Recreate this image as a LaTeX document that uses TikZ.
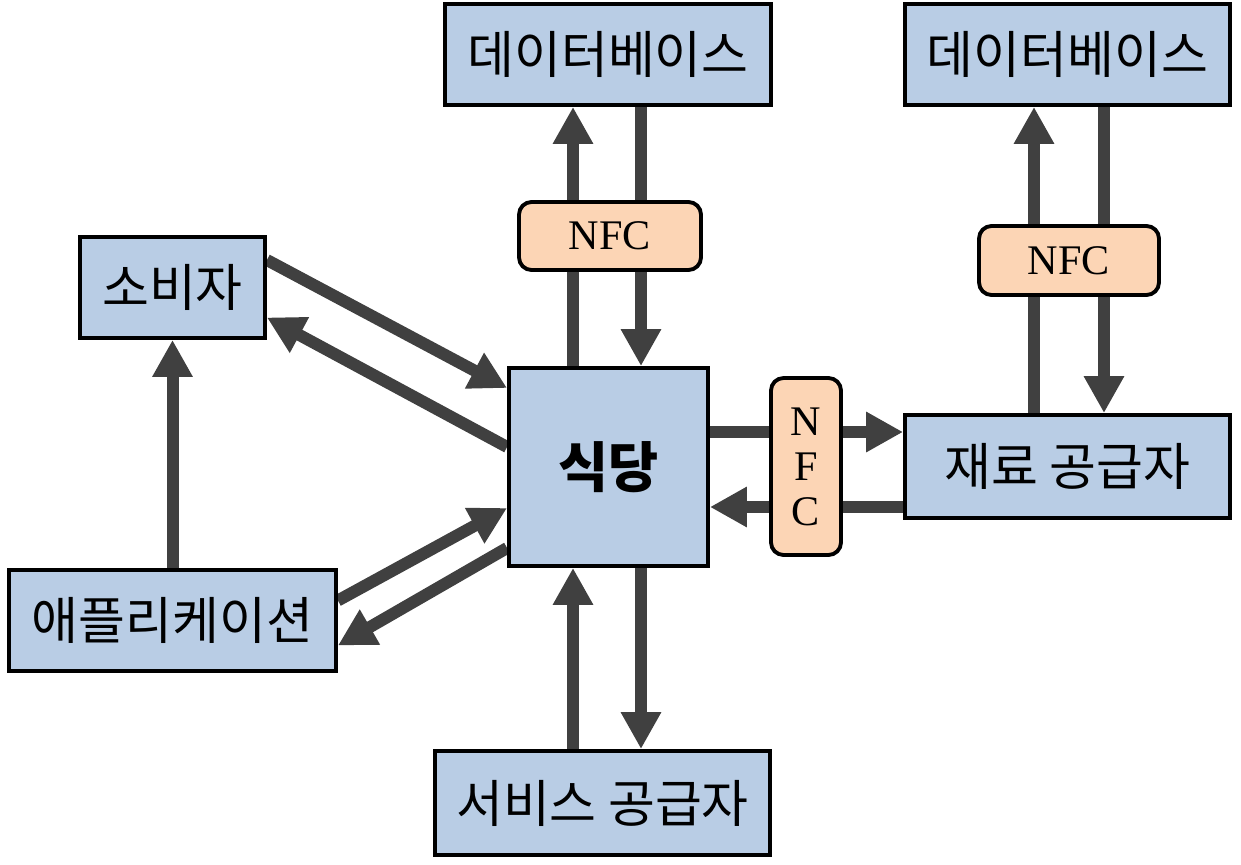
\documentclass[tikz,border=0pt]{standalone}
\usepackage{fontspec}
\setmainfont{Liberation Serif}
\newfontfamily\kr{Noto Sans CJK KR}
\usetikzlibrary{arrows.meta,positioning,backgrounds}
\definecolor{boxblue}{HTML}{B9CDE5}
\definecolor{nfcorange}{HTML}{FCD5B5}
\definecolor{arrowgray}{HTML}{404040}

\begin{document}
\begin{tikzpicture}[
    x=0.02cm, y=-0.02cm,
    >={Triangle[length=0.74cm,width=0.76cm]},
    block/.style={
		rectangle,
		draw=black,
		line width=2.2pt,
		fill=boxblue,
		text centered,
		inner sep=0pt,
		font=\kr\fontsize{29}{33}\selectfont
	},
    nfc/.style={
		rectangle,
		rounded corners=0.25cm,
		draw=black,
		line width=2.2pt,
		fill=nfcorange,
		align=center,
		inner sep=0pt,
		font=\fontsize{24}{25.6}\selectfont
	},
    flow/.style={
		->,
		draw=arrowgray,
		line width=0.24cm
	}
  ]
  \useasboundingbox (0,0) rectangle (1241,865);
    % We start by placing the blocks

  \node [block, minimum width=3.98cm, minimum height=3.96cm,
         font=\kr\bfseries\fontsize{31}{35}\selectfont] (sikdang) at (608.5,467) {식당};
  \node [block, minimum width=6.52cm, minimum height=2.02cm] (db1) at (608,54.5) {데이터베이스};
  \node [block, minimum width=6.5cm, minimum height=2.02cm] (db2) at (1067.5,54.5) {데이터베이스};
  \node [block, minimum width=3.7cm, minimum height=2.02cm] (sobija) at (172.5,287.5) {소비자};
  \node [block, minimum width=6.5cm, minimum height=2.06cm] (jaeryo) at (1067.5,466.5) {재료 공급자};
  \node [block, minimum width=6.54cm, minimum height=2.02cm] (app) at (172.5,620.5) {애플리케이션};
  \node [block, minimum width=6.7cm, minimum height=2.08cm] (service) at (602.5,803) {서비스 공급자};

  \node [nfc, minimum width=3.64cm, minimum height=1.36cm] (nfc1) at (610,236) {NFC};
  \node [nfc, minimum width=3.6cm, minimum height=1.38cm] (nfc2) at (1069,260.5) {NFC};
  \node [nfc, minimum width=1.4cm, minimum height=3.54cm] (nfc3) at (806,466.5) {N\\F\\C};

  % arrows go behind the NFC boxes
  \begin{scope}[on background layer]
 \draw [flow] ([xshift=-0.71cm]sikdang.north) -- ([xshift=-0.71cm]sikdang.north |- db1.south);
 \draw [flow] ([xshift=0.65cm]sikdang.north |- db1.south) -- ([xshift=0.65cm]sikdang.north);
 \draw [flow] ([xshift=-0.67cm]jaeryo.north) -- ([xshift=-0.67cm]jaeryo.north |- db2.south);
 \draw [flow] ([xshift=0.73cm]jaeryo.north |- db2.south) -- ([xshift=0.73cm]jaeryo.north);
 \draw [flow] ([yshift=0.7cm]sikdang.east) -- ([yshift=0.7cm]sikdang.east -| jaeryo.west);
 \draw [flow] ([yshift=-0.8cm]sikdang.east -| jaeryo.west) -- ([yshift=-0.8cm]sikdang.east);
 \draw [flow] ([xshift=-0.71cm]sikdang.south |- service.north) -- ([xshift=-0.71cm]sikdang.south);
 \draw [flow] ([xshift=0.65cm]sikdang.south) -- ([xshift=0.65cm]sikdang.south |- service.north);
 \draw [flow] ([yshift=0.55cm]sobija.east) -- ([yshift=1.58cm]sikdang.west);
 \draw [flow] ([yshift=0.4cm]sikdang.west) -- ([yshift=-0.6cm]sobija.east);
 \draw [flow] ([yshift=0.4cm]app.east) -- ([yshift=-0.82cm]sikdang.west);
 \draw [flow] ([yshift=-1.62cm]sikdang.west) -- ([yshift=-0.5cm]app.east);
 \draw [flow] (app.north) -- (sobija.south);
  \end{scope}

\end{tikzpicture}
\end{document}
